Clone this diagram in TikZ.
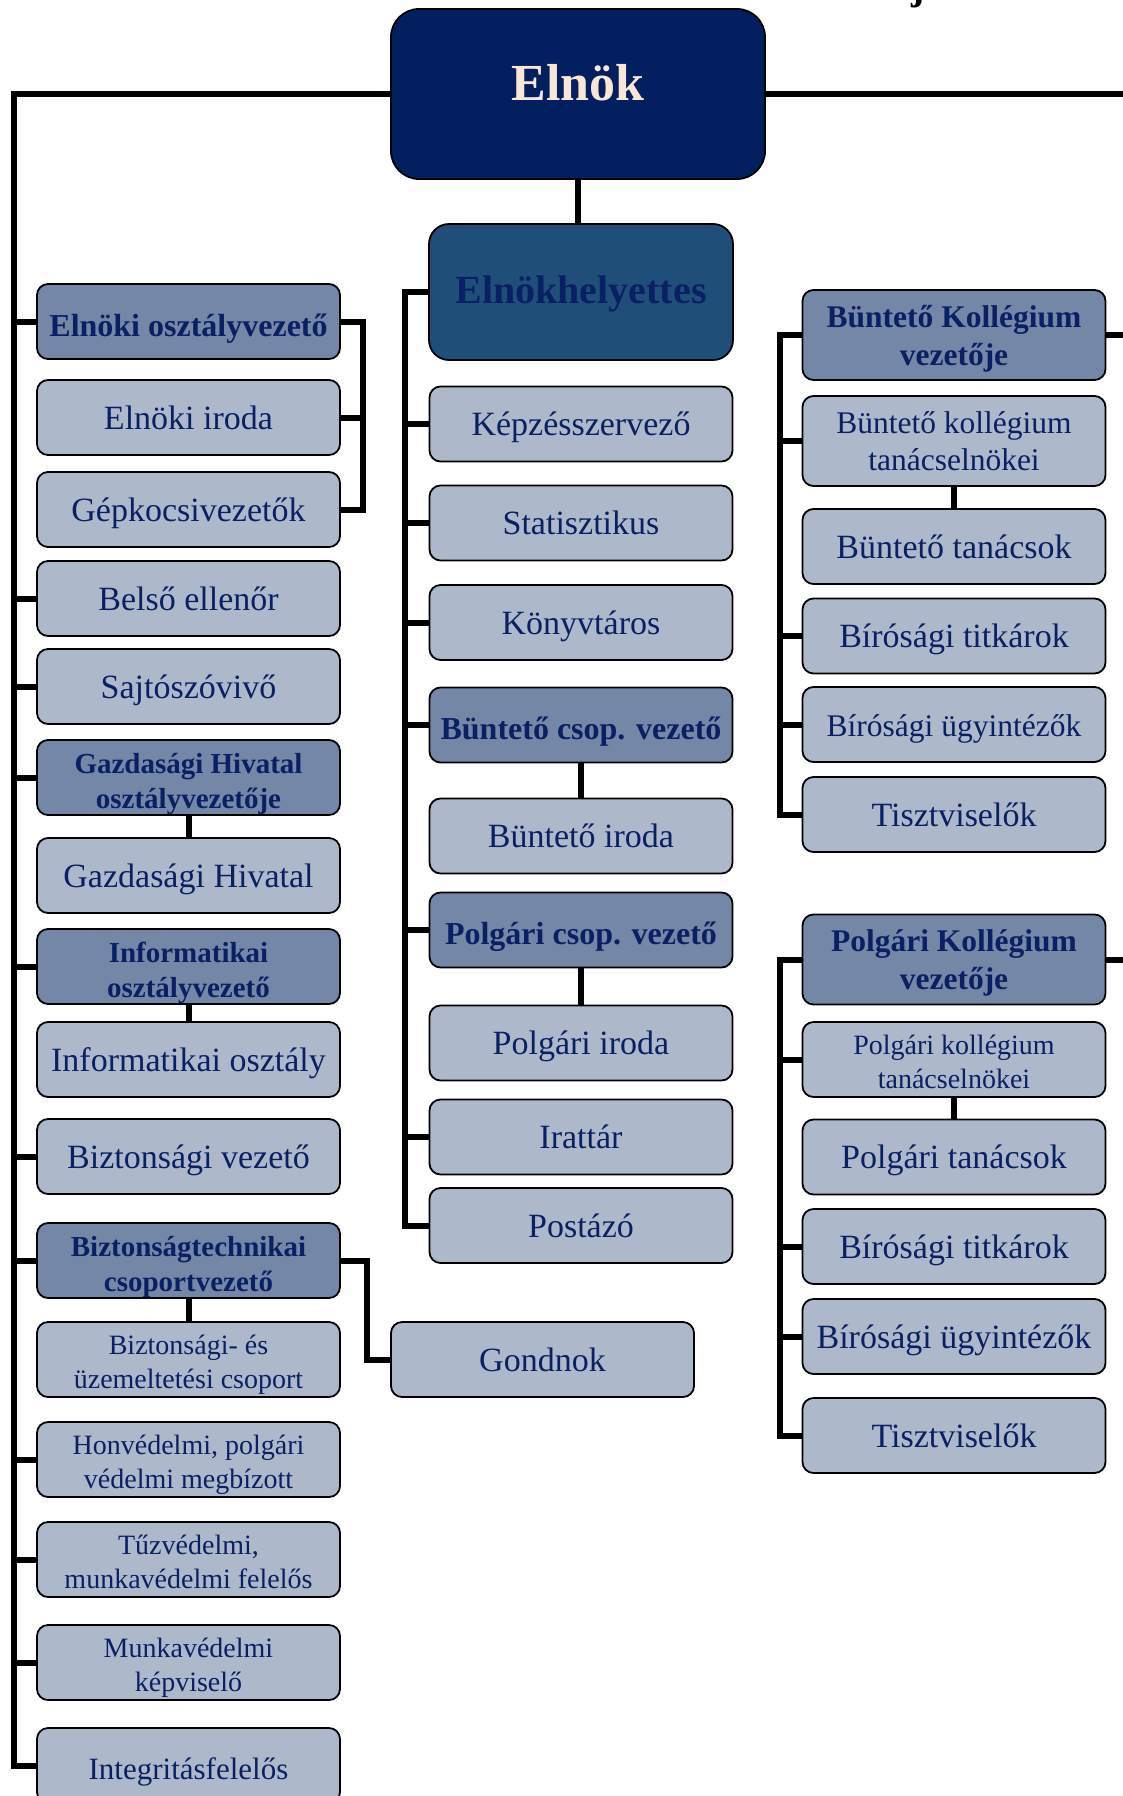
\documentclass[tikz,border=0pt]{standalone}
\usepackage{fontspec}
\setmainfont{Liberation Serif}
\usetikzlibrary{backgrounds}
\definecolor{lfill}{HTML}{ADB9CA}
\definecolor{dfill}{HTML}{7587A6}
\definecolor{ehfill}{HTML}{1F4E79}
\definecolor{elfill}{HTML}{02205F}
\definecolor{txt}{HTML}{0A2064}
\definecolor{elntxt}{HTML}{FBE5D6}
\tikzset{
  box/.style={draw=black, line width=1.8pt, rounded corners=11pt, inner sep=0pt, align=center, text=txt, minimum height=75pt, minimum width=303pt},
  lb/.style={box, fill=lfill, font=\fontsize{34}{40}\selectfont, text height=26pt, text depth=2.5pt},
  lbs/.style={box, fill=lfill, font=\fontsize{28}{34}\selectfont, text height=60pt, text depth=1.4pt},
  db/.style={box, fill=dfill, font=\bfseries\fontsize{32}{38}\selectfont, text height=30pt, text depth=0.4pt},
  dbs/.style={box, fill=dfill, font=\bfseries\fontsize{29}{35}\selectfont, text height=62pt, text depth=1pt},
  dbr/.style={box, fill=dfill, minimum height=90pt, font=\bfseries\fontsize{31.5}{38}\selectfont, text height=61pt, text depth=0.6pt},
  conn/.style={line width=6pt, draw=black, line join=miter}
}
\begin{document}
\begin{tikzpicture}[x=1pt,y=-1pt]
\useasboundingbox (0,0) rectangle (1122,1796);
% fragment of text cut at the top edge
\node[font=\bfseries\fontsize{40}{40}\selectfont, anchor=base, inner sep=0pt] (jfrag) at (918,-1) {j};
% top
\node[box, fill=elfill, minimum width=374pt, minimum height=170pt, rounded corners=28pt, text=elntxt, font=\bfseries\fontsize{52}{60}\selectfont, text height=14pt, text depth=0.8pt] (el) at (578,94) {Elnök};
\node[box, fill=ehfill, minimum width=304pt, minimum height=136pt, rounded corners=20pt, font=\bfseries\fontsize{40}{48}\selectfont, text height=23pt, text depth=1pt] (eh) at (581,292) {Elnökhelyettes};
% left column
\node[db] (eo) at (188.5,321.5) {Elnöki osztályvezető};
\node[lb] (ei) at (188.5,417.5) {Elnöki iroda};
\node[lb] (gk) at (188.5,509.5) {Gépkocsivezetők};
\node[lb] (be) at (188.5,598.5) {Belső ellenőr};
\node[lb] (sz) at (188.5,686.5) {Sajtószóvivő};
\node[dbs] (gho) at (188.5,777.5) {Gazdasági Hivatal\\osztályvezetője};
\node[lb] (gh) at (188.5,875.5) {Gazdasági Hivatal};
\node[dbs] (io) at (188.5,966.5) {Informatikai\\osztályvezető};
\node[lb] (ios) at (188.5,1059.5) {Informatikai osztály};
\node[lb] (bv) at (188.5,1156.5) {Biztonsági vezető};
\node[dbs] (bt) at (188.5,1260.5) {Biztonságtechnikai\\csoportvezető};
\node[lbs] (bu) at (188.5,1359.5) {Biztonsági- és\\üzemeltetési csoport};
\node[lbs] (hv) at (188.5,1459.5) {Honvédelmi, polgári\\védelmi megbízott};
\node[lbs] (tv) at (188.5,1559.5) {Tűzvédelmi,\\munkavédelmi felelős};
\node[lbs] (mv) at (188.5,1662.5) {Munkavédelmi\\képviselő};
\node[lb, font=\fontsize{31}{37}\selectfont, text height=28pt, text depth=0.9pt] (ig) at (188.5,1765.5) {Integritásfelelős};
\node[lb] (gon) at (542.5,1359.5) {Gondnok};
% middle column
\node[lb] (kp) at (581,424) {Képzésszervező};
\node[lb] (st) at (581,523) {Statisztikus};
\node[lb] (kv) at (581,622.5) {Könyvtáros};
\node[db] (bc) at (581,725) {Büntető csop. vezető};
\node[lb] (bi) at (581,836) {Büntető iroda};
\node[db] (pc) at (581,930) {Polgári csop. vezető};
\node[lb] (pi) at (581,1043) {Polgári iroda};
\node[lb] (ir) at (581,1137) {Irattár};
\node[lb] (po) at (581,1225.5) {Postázó};
% right column
\node[dbr] (bk) at (954,335) {Büntető Kollégium\\vezetője};
\node[lb, minimum height=90pt, font=\fontsize{31.5}{37}\selectfont, text height=60pt, text depth=1pt] (bkt) at (954,441) {Büntető kollégium\\tanácselnökei};
\node[lb] (bta) at (954,546.5) {Büntető tanácsok};
\node[lb] (btt) at (954,636) {Bírósági titkárok};
\node[lb, font=\fontsize{31.5}{37}\selectfont] (bug) at (954,724.5) {Bírósági ügyintézők};
\node[lb] (bti) at (954,814.5) {Tisztviselők};
\node[dbr] (pk) at (954,959.5) {Polgári Kollégium\\vezetője};
\node[lbs, text height=59pt, text depth=1.2pt] (pkt) at (954,1059.5) {Polgári kollégium\\tanácselnökei};
\node[lb] (pta) at (954,1157) {Polgári tanácsok};
\node[lb] (ptt) at (954,1246.5) {Bírósági titkárok};
\node[lb] (pug) at (954,1336.5) {Bírósági ügyintézők};
\node[lb] (pti) at (954,1435.5) {Tisztviselők};
% trunk coordinates
\coordinate (LT) at (14,0);
\coordinate (MT) at (405,0);
\coordinate (RT) at (780,0);
\coordinate (BR) at (363,0);
\coordinate (GX) at (367,0);
\coordinate (RE) at (1135,0);
\begin{scope}[on background layer]
\fill[white] (0,0) rectangle (1122,1796);
% left trunk
\draw[conn] (el.west) -| (LT |- ig.west) -- (ig.west);
\foreach \n in {eo,be,sz,gho,io,bv,bt,hv,tv,mv}
  \draw[conn] (LT |- \n.west) -- (\n.west);
\draw[conn] (eo.east) -| (BR |- gk.east) -- (gk.east);
\draw[conn] (ei.east) -- (BR |- ei.east);
\draw[conn] (bt.east) -| (GX |- gon.west) -- (gon.west);
\draw[conn] (gho.south) -- (gh.north);
\draw[conn] (io.south) -- (ios.north);
\draw[conn] (bt.south) -- (bu.north);
% middle
\draw[conn] (el.south) -- (el.south |- eh.north);
\draw[conn] (eh.west) -| (MT |- po.west) -- (po.west);
\foreach \n in {kp,st,kv,bc,pc,ir}
  \draw[conn] (MT |- \n.west) -- (\n.west);
\draw[conn] (bc.south) -- (bi.north);
\draw[conn] (pc.south) -- (pi.north);
% right
\draw[conn] (bk.west) -| (RT |- bti.west) -- (bti.west);
\foreach \n in {bkt,btt,bug}
  \draw[conn] (RT |- \n.west) -- (\n.west);
\draw[conn] (bkt.south) -- (bta.north);
\draw[conn] (pk.west) -| (RT |- pti.west) -- (pti.west);
\foreach \n in {pkt,ptt,pug}
  \draw[conn] (RT |- \n.west) -- (\n.west);
\draw[conn] (pkt.south) -- (pta.north);
% lines leaving to the right edge
\draw[conn] (el.east) -- (RE |- el.east);
\draw[conn] (bk.east) -- (RE |- bk.east);
\draw[conn] (pk.east) -- (RE |- pk.east);
\end{scope}
\end{tikzpicture}
\end{document}
